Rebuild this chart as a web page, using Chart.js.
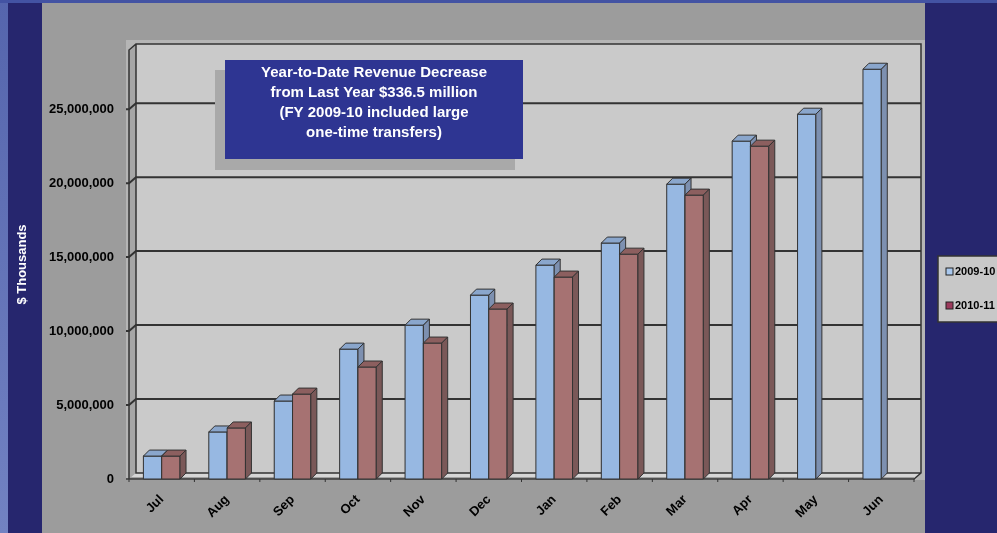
<!DOCTYPE html>
<html>
<head>
<meta charset="utf-8">
<script src="https://cdn.jsdelivr.net/npm/chart.js@4/dist/chart.umd.min.js"></script>
<style>
  html, body { margin: 0; padding: 0; background: #9c9c9c; }
  #wrap { width: 997px; height: 533px; position: relative; }
</style>
</head>
<body>
<div id="wrap"><canvas id="revenue"></canvas></div>
<script>
// chart data
var months = ['Jul', 'Aug', 'Sep', 'Oct', 'Nov', 'Dec', 'Jan', 'Feb', 'Mar', 'Apr', 'May', 'Jun'];
var fy0910 = [1550000, 3180000, 5270000, 8780000, 10400000, 12430000, 14460000, 15950000, 19930000, 22840000, 24660000, 27700000];
var fy1011 = [1550000, 3450000, 5740000, 7570000, 9190000, 11490000, 13650000, 15200000, 19190000, 22500000, null, null];
var seriesNames = ['2009-10', '2010-11'];
var yTicks = [0, 5000000, 10000000, 15000000, 20000000, 25000000];
var yMax = 29000000;
var axisTitle = '$ Thousands';
var noteLines = ['Year-to-Date Revenue Decrease', 'from Last Year $336.5 million', '(FY 2009-10 included large', 'one-time transfers)'];

var depth = { dx: 7, dy: -6 }; // 3d offset of back wall
var barDepth = { dx: 6, dy: -6 };

var colors = {
    front: ['#97b8e2', '#a67272'],
    top: ['#8aa6cc', '#8c5f5f'],
    side: ['#7d90b0', '#7a5858'],
    swatch: ['#a9c8ee', '#9c3a5c']
};

function withCommas(v) {
    return String(v).replace(/\B(?=(\d{3})+(?!\d))/g, ',');
}

function shade(ctx, pts, fill, stroke) {
    ctx.beginPath();
    ctx.moveTo(pts[0][0], pts[0][1]);
    for (var i = 1; i < pts.length; i++) ctx.lineTo(pts[i][0], pts[i][1]);
    ctx.closePath();
    ctx.fillStyle = fill;
    ctx.fill();
    if (stroke) {
        ctx.strokeStyle = stroke;
        ctx.lineWidth = 1;
        ctx.stroke();
    }
}

var backdrop = {
    id: 'backdrop',
    beforeDraw: function (chart) {
        var ctx = chart.ctx;
        var a = chart.chartArea;
        var y = chart.scales.y;
        var W = chart.width, H = chart.height;
        ctx.save();
        // page frame
        ctx.fillStyle = '#9c9c9c';
        ctx.fillRect(0, 0, W, H);
        var g = ctx.createLinearGradient(0, 0, 0, H);
        g.addColorStop(0, '#5565ad');
        g.addColorStop(1, '#7282c2');
        ctx.fillStyle = g;
        ctx.fillRect(0, 0, 8, H);
        ctx.fillStyle = '#4353a3';
        ctx.fillRect(0, 0, W, 3);
        ctx.fillStyle = '#26266e';
        ctx.fillRect(8, 3, 34, H);
        ctx.fillRect(925, 3, W - 925, H);

        // plot area
        ctx.fillStyle = '#b5b5b5';
        ctx.fillRect(126, 40, 925 - 126, 440);

        var L = a.left, R = a.right, T = a.top, B = a.bottom;
        var dx = depth.dx, dy = depth.dy;
        // back wall
        shade(ctx, [[L + dx, T + dy], [R + dx, T + dy], [R + dx, B + dy], [L + dx, B + dy]], '#cacaca');
        // side wall
        shade(ctx, [[L, T], [L + dx, T + dy], [L + dx, B + dy], [L, B]], '#a6a6a6');
        // floor
        shade(ctx, [[L, B], [L + dx, B + dy], [R + dx, B + dy], [R, B]], '#d6d6d6');
        ctx.fillStyle = '#a0a0a0';
        ctx.fillRect(L, B - 2, R - L, 2);

        // gridlines
        ctx.strokeStyle = '#333333';
        ctx.lineWidth = 2;
        yTicks.forEach(function (v) {
            if (v === 0) return;
            var py = y.getPixelForValue(v);
            ctx.beginPath();
            ctx.moveTo(L - 3, py);
            ctx.lineTo(L, py);
            ctx.lineTo(L + dx, py + dy);
            ctx.lineTo(R + dx, py + dy);
            ctx.stroke();
        });
        // frame edges
        ctx.lineWidth = 1.5;
        ctx.beginPath();
        ctx.moveTo(L, B);
        ctx.lineTo(L, T);
        ctx.lineTo(L + dx, T + dy);
        ctx.lineTo(R + dx, T + dy);
        ctx.lineTo(R + dx, B + dy);
        ctx.lineTo(R, B);
        ctx.lineTo(L, B);
        ctx.moveTo(L - 3, B);
        ctx.lineTo(L, B);
        ctx.moveTo(L + dx, T + dy);
        ctx.lineTo(L + dx, B + dy);
        ctx.lineTo(R + dx, B + dy);
        ctx.stroke();
        // x ticks
        var n = months.length;
        ctx.lineWidth = 1;
        for (var i = 0; i <= n; i++) {
            var px = L + (R - L) * i / n;
            ctx.beginPath();
            ctx.moveTo(px, B);
            ctx.lineTo(px, B + 3);
            ctx.stroke();
        }
        ctx.restore();
    },
    afterDatasetsDraw: function (chart) {
        var ctx = chart.ctx;
        var metas = [chart.getDatasetMeta(0), chart.getDatasetMeta(1)];
        var bx = barDepth.dx, by = barDepth.dy;
        ctx.save();
        for (var i = 0; i < months.length; i++) {
            for (var d = 0; d < 2; d++) {
                var el = metas[d].data[i];
                var val = chart.data.datasets[d].data[i];
                if (!el || val === null) continue;
                var x0 = el.x - el.width / 2, x1 = el.x + el.width / 2;
                var top = el.y, base = el.base;
                shade(ctx, [[x0, top], [x1, top], [x1, base], [x0, base]], colors.front[d], '#333');
                shade(ctx, [[x0, top], [x0 + bx, top + by], [x1 + bx, top + by], [x1, top]], colors.top[d], '#333');
                shade(ctx, [[x1, top], [x1 + bx, top + by], [x1 + bx, base + by], [x1, base]], colors.side[d], '#333');
            }
        }

        // note box
        ctx.fillStyle = '#a9a9a9';
        ctx.fillRect(215, 70, 300, 100);
        ctx.fillStyle = '#2e3592';
        ctx.fillRect(225, 60, 298, 99);
        ctx.fillStyle = '#ffffff';
        ctx.font = 'bold 15px "Liberation Sans", Arial, sans-serif';
        ctx.textAlign = 'center';
        ctx.textBaseline = 'middle';
        noteLines.forEach(function (line, k) {
            ctx.fillText(line, 374, 73 + k * 20);
        });

        // legend
        ctx.fillStyle = '#c8c8c8';
        ctx.fillRect(938, 256, 70, 66);
        ctx.strokeStyle = '#333';
        ctx.lineWidth = 1.5;
        ctx.strokeRect(938, 256, 70, 66);
        ctx.font = 'bold 11px "Liberation Sans", Arial, sans-serif';
        ctx.textAlign = 'left';
        seriesNames.forEach(function (name, k) {
            var ly = 272 + k * 34;
            ctx.fillStyle = colors.swatch[k];
            ctx.fillRect(946, ly - 4, 7, 7);
            ctx.strokeStyle = '#222';
            ctx.lineWidth = 1;
            ctx.strokeRect(946, ly - 4, 7, 7);
            ctx.fillStyle = '#000';
            ctx.fillText(name, 955, ly);
        });
        ctx.restore();
    }
};

var ctx = document.getElementById('revenue');
var revenueChart = new Chart(ctx, {
    type: 'bar',
    data: {
        labels: months,
        datasets: [
            { label: seriesNames[0], data: fy0910, backgroundColor: colors.front[0], borderColor: '#333', borderWidth: 1 },
            { label: seriesNames[1], data: fy1011, backgroundColor: colors.front[1], borderColor: '#333', borderWidth: 1 }
        ]
    },
    options: {
        responsive: true,
        maintainAspectRatio: false,
        animation: false,
        layout: { padding: { top: 50, right: 83, left: 0, bottom: 0 } },
        datasets: { bar: { barPercentage: 1, categoryPercentage: 0.56 } },
        plugins: { legend: { display: false }, tooltip: { enabled: false } },
        scales: {
            x: {
                grid: { display: false, drawTicks: false },
                border: { display: false },
                ticks: {
                    color: '#000',
                    font: { family: '"Liberation Sans", Arial, sans-serif', size: 13, weight: 'bold' },
                    minRotation: 45,
                    maxRotation: 45,
                    padding: 13
                },
                afterFit: function (scale) { scale.height = 54; }
            },
            y: {
                min: 0,
                max: yMax,
                grid: { display: false, drawTicks: false },
                border: { display: false },
                afterBuildTicks: function (scale) {
                    scale.ticks = yTicks.map(function (v) { return { value: v }; });
                },
                ticks: {
                    autoSkip: false,
                    padding: 15,
                    color: '#000',
                    font: { family: '"Liberation Sans", Arial, sans-serif', size: 13, weight: 'bold' },
                    callback: function (v) { return withCommas(v); }
                },
                title: {
                    display: true,
                    text: axisTitle,
                    color: '#ffffff',
                    font: { family: '"Liberation Sans", Arial, sans-serif', size: 13, weight: 'bold' },
                    padding: { top: 15, bottom: 0 }
                },
                afterFit: function (scale) { scale.width = 129; }
            }
        }
    },
    plugins: [backdrop]
});
</script>
</body>
</html>
